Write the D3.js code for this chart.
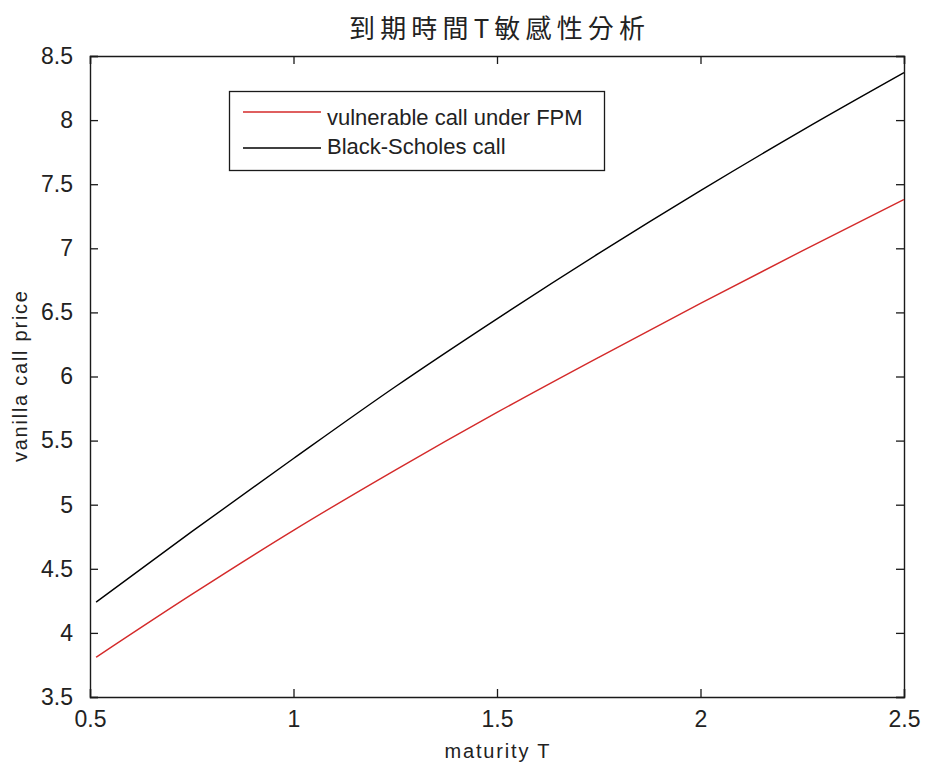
<!DOCTYPE html>
<html>
<head>
<meta charset="utf-8">
<script src="https://cdn.jsdelivr.net/npm/d3@7"></script>
<style>
  html, body { margin: 0; padding: 0; background: #fff; }
  svg { display: block; }
</style>
</head>
<body>
<svg id="chart" width="925" height="767"></svg>
<script>
// Maturity T (years) at which both prices were evaluated
const maturity = [0.515, 0.75, 1.0, 1.25, 1.5, 1.75, 2.0, 2.25, 2.5];
// Vulnerable call price under the FPM credit model
const fpmCall = [3.81, 4.30, 4.80, 5.27, 5.72, 6.15, 6.57, 6.98, 7.38];
// Default-free Black-Scholes call price
const bsCall = [4.24, 4.79, 5.36, 5.92, 6.45, 6.96, 7.45, 7.92, 8.37];

const xTicks = [0.5, 1, 1.5, 2, 2.5];
const xTickLabels = ["0.5", "1", "1.5", "2", "2.5"];
const yTicks = [3.5, 4, 4.5, 5, 5.5, 6, 6.5, 7, 7.5, 8, 8.5];
const yTickLabels = ["3.5", "4", "4.5", "5", "5.5", "6", "6.5", "7", "7.5", "8", "8.5"];

const seriesNames = ["vulnerable call under FPM", "Black-Scholes call"];
const seriesColors = ["#d42a2a", "#000000"];

const titleText = "到期時間T敏感性分析";
const xLabel = "maturity T";
const yLabel = "vanilla call price";

const svg = d3.select("#chart");
const plotL = 90, plotR = 904, plotT = 56, plotB = 697;
const x = d3.scaleLinear().domain([0.5, 2.5]).range([plotL, plotR]);
const y = d3.scaleLinear().domain([3.5, 8.5]).range([plotB, plotT]);
const tickLen = 8;
const tickFont = "Liberation Sans, Arial, sans-serif";

// Axis box with inward ticks on all four sides
const axes = svg.append("g");
const bottomAxis = d3.axisBottom(x).tickValues(xTicks).tickSize(-tickLen).tickPadding(14)
  .tickFormat((d, i) => xTickLabels[i]);
const topAxis = d3.axisTop(x).tickValues(xTicks).tickSize(-tickLen).tickFormat("");
const leftAxis = d3.axisLeft(y).tickValues(yTicks).tickSize(-tickLen).tickPadding(17)
  .tickFormat((d, i) => yTickLabels[i]);
const rightAxis = d3.axisRight(y).tickValues(yTicks).tickSize(-tickLen).tickFormat("");

axes.append("g").attr("transform", `translate(0,${plotB})`).call(bottomAxis);
axes.append("g").attr("transform", `translate(0,${plotT})`).call(topAxis);
axes.append("g").attr("transform", `translate(${plotL},0)`).call(leftAxis);
axes.append("g").attr("transform", `translate(${plotR},0)`).call(rightAxis);

axes.selectAll(".domain").attr("stroke", "#1a1a1a").attr("stroke-width", 1.4);
axes.selectAll(".tick line").attr("stroke", "#1a1a1a").attr("stroke-width", 1.3);
axes.selectAll(".tick text")
  .attr("font-family", tickFont)
  .attr("font-size", 23)
  .attr("fill", "#222");

// Price curves
const line = d3.line().x(d => x(d[0])).y(d => y(d[1])).curve(d3.curveMonotoneX);
[fpmCall, bsCall].forEach((vals, i) => {
  svg.append("path")
    .datum(maturity.map((t, k) => [t, vals[k]]))
    .attr("d", line)
    .attr("fill", "none")
    .attr("stroke", seriesColors[i])
    .attr("stroke-width", 1.4);
});

// Legend
const legend = svg.append("g");
legend.append("rect")
  .attr("x", 229.5).attr("y", 91.5).attr("width", 375).attr("height", 79)
  .attr("fill", "#fff").attr("stroke", "#1a1a1a").attr("stroke-width", 1.3);
const rowY = [112, 148];
const textBase = [125, 154];
seriesNames.forEach((name, i) => {
  legend.append("line")
    .attr("x1", 243).attr("x2", 321).attr("y1", rowY[i]).attr("y2", rowY[i])
    .attr("stroke", seriesColors[i]).attr("stroke-width", 1.4);
  legend.append("text")
    .attr("x", 327).attr("y", textBase[i])
    .attr("font-family", tickFont).attr("font-size", 22).attr("fill", "#222")
    .text(name);
});

// Title and axis labels
svg.append("text")
  .attr("x", (plotL + plotR) / 2).attr("y", 38)
  .attr("text-anchor", "middle")
  .attr("font-family", "Noto Sans CJK TC, Noto Sans CJK SC, sans-serif")
  .attr("font-size", 26).attr("fill", "#222")
  .attr("textLength", 296).attr("lengthAdjust", "spacing")
  .text(titleText);

svg.append("text")
  .attr("x", (plotL + plotR) / 2).attr("y", 758)
  .attr("text-anchor", "middle")
  .attr("font-family", tickFont).attr("font-size", 20).attr("fill", "#222")
  .attr("textLength", 105).attr("lengthAdjust", "spacing")
  .text(xLabel);

svg.append("text")
  .attr("transform", `translate(27,${(plotT + plotB) / 2}) rotate(-90)`)
  .attr("text-anchor", "middle")
  .attr("font-family", tickFont).attr("font-size", 20).attr("fill", "#222")
  .attr("textLength", 171).attr("lengthAdjust", "spacing")
  .text(yLabel);
</script>
</body>
</html>
